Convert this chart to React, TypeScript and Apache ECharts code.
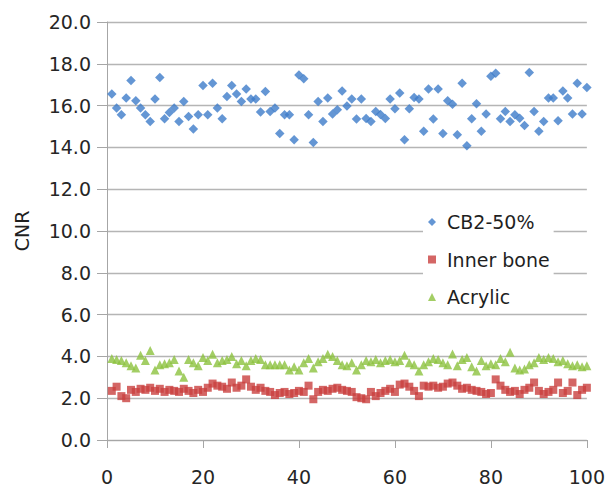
import React, { useEffect, useRef } from "react";
import * as echarts from "echarts";

const cb250: number[] = [
  16.56, 15.88, 15.56, 16.36, 17.2, 16.23, 15.88, 15.56, 15.24, 16.31,
  17.34, 15.37, 15.67, 15.88, 15.24, 16.2, 15.48, 14.88, 15.56, 16.96,
  15.56, 17.07, 15.88, 15.37, 16.44, 16.96, 16.56, 16.2, 16.8, 16.31,
  16.31, 15.69, 16.67, 15.72, 15.88, 14.66, 15.56, 15.56, 14.37, 17.47,
  17.28, 15.56, 14.24, 16.2, 15.24, 16.36, 15.6, 15.8, 16.7, 15.98,
  16.31, 15.36, 16.31, 15.38, 15.24, 15.72, 15.58, 15.38, 16.32, 15.85,
  16.6, 14.37, 15.85, 16.39, 16.32, 14.77, 16.79, 15.36, 16.79, 14.66,
  16.23, 16.07, 14.61, 17.07, 14.08, 15.37, 16.09, 14.77, 15.6, 17.4,
  17.55, 15.37, 15.72, 15.24, 15.56, 15.4, 15.05, 17.58, 15.72, 14.77,
  15.24, 16.36, 16.36, 15.28, 16.7, 16.36, 15.6, 17.07, 15.6, 16.87,
];

const innerBone: number[] = [
  2.35, 2.55, 2.1, 2.0, 2.4, 2.3, 2.45, 2.4, 2.5, 2.35,
  2.45, 2.3, 2.4, 2.35, 2.3, 2.45, 2.35, 2.25, 2.4, 2.3,
  2.5, 2.7, 2.6, 2.55, 2.45, 2.75, 2.5, 2.6, 2.9, 2.55,
  2.4, 2.5, 2.35, 2.3, 2.15, 2.25, 2.3, 2.2, 2.25, 2.35,
  2.3, 2.6, 1.95, 2.3, 2.4, 2.35, 2.45, 2.5, 2.4, 2.35,
  2.3, 2.05, 2.0, 1.95, 2.3, 2.1, 2.25, 2.35, 2.45, 2.3,
  2.65, 2.7, 2.55, 2.35, 2.1, 2.6, 2.55, 2.6, 2.5, 2.55,
  2.7, 2.75, 2.6, 2.45, 2.5, 2.4, 2.35, 2.3, 2.2, 2.25,
  2.9, 2.6, 2.4, 2.3, 2.35, 2.2, 2.4, 2.5, 2.75, 2.35,
  2.2, 2.3, 2.4, 2.75, 2.25, 2.35, 2.75, 2.15, 2.4, 2.5,
];

const acrylic: number[] = [
  3.9, 3.85, 3.8, 3.7, 3.55, 3.45, 4.05, 3.8, 4.28, 3.35,
  3.6, 3.65, 3.7, 3.85, 3.3, 3.0, 3.85, 3.7, 3.55, 3.95,
  3.8, 4.1, 3.7, 3.8, 3.85, 4.0, 3.65, 3.8, 3.55, 3.8,
  3.9, 3.85, 3.6, 3.6, 3.6, 3.6, 3.6, 3.35, 3.5, 3.35,
  3.7, 3.9, 3.45, 3.75, 3.9, 4.1, 4.0, 3.8, 3.6, 3.55,
  3.7, 3.35, 3.6, 3.8, 3.75, 3.85, 3.7, 3.8, 3.85, 3.75,
  3.8, 4.05, 3.7, 3.6, 3.3, 3.6, 3.75, 3.9, 3.85, 3.7,
  3.6, 4.12, 3.55, 3.85, 3.95, 3.5, 3.3, 3.8, 3.55, 3.65,
  3.6, 3.9, 3.75, 4.2, 3.45, 3.35, 3.4, 3.6, 3.7, 3.95,
  3.85, 3.95, 3.9, 3.75, 3.8, 3.65, 3.55, 3.6, 3.5, 3.55,
];

const seriesNames = ["CB2-50%", "Inner bone", "Acrylic"];
const xTicks = [0, 20, 40, 60, 80, 100];
const yTicks = [0, 2, 4, 6, 8, 10, 12, 14, 16, 18, 20];

const toPairs = (vals: number[]) => vals.map((v, i) => [i + 1, v]);

const FONT = "DejaVu Sans";

export default function App() {
  const ref = useRef<HTMLDivElement>(null);
  useEffect(() => {
    if (!ref.current) return;
    const chart = echarts.init(ref.current, undefined, { renderer: "svg" });
    chart.setOption({
      animation: false,
      backgroundColor: "#ffffff",
      textStyle: { fontFamily: FONT },
      grid: { left: 107, right: 20.3, top: 22, bottom: 44.5, containLabel: false },
      legend: {
        orient: "vertical",
        left: 423,
        top: 204,
        padding: [8, 4, 4, 5],
        backgroundColor: "#ffffff",
        itemWidth: 8,
        itemHeight: 8,
        itemGap: 17.5,
        selectedMode: false,
        data: seriesNames,
        textStyle: {
          fontFamily: FONT,
          fontSize: 19,
          color: "#1f1f1f",
          lineHeight: 20,
          padding: [0, 0, 0, 6],
        },
      },
      xAxis: {
        type: "value",
        min: xTicks[0],
        max: xTicks[xTicks.length - 1],
        interval: 20,
        axisLine: { show: true, lineStyle: { color: "#a6a6a6", width: 1 } },
        axisTick: { show: true, inside: false, length: 8, lineStyle: { color: "#a6a6a6" } },
        splitLine: { show: false },
        axisLabel: { fontFamily: FONT, fontSize: 19, color: "#262626", margin: 27 },
      },
      yAxis: {
        type: "value",
        min: yTicks[0],
        max: yTicks[yTicks.length - 1],
        interval: 2,
        name: "CNR",
        nameLocation: "middle",
        nameRotate: 90,
        nameGap: 76,
        nameTextStyle: { fontFamily: FONT, fontSize: 19, color: "#1f1f1f" },
        axisLine: { show: true, lineStyle: { color: "#a6a6a6", width: 1 } },
        axisTick: { show: true, inside: false, length: 10, lineStyle: { color: "#a6a6a6" } },
        splitLine: { show: true, lineStyle: { color: "#b5b5b5", width: 1.3 } },
        axisLabel: {
          fontFamily: FONT,
          fontSize: 19,
          color: "#262626",
          margin: 16,
          formatter: (v: number) => v.toFixed(1),
        },
      },
      series: [
        {
          name: seriesNames[0],
          type: "scatter",
          symbol: "diamond",
          symbolSize: 9.5,
          itemStyle: { color: "#3d7cc9" },
          data: toPairs(cb250),
        },
        {
          name: seriesNames[1],
          type: "scatter",
          symbol: "rect",
          symbolSize: 8,
          itemStyle: { color: "#c9403f" },
          data: toPairs(innerBone),
        },
        {
          name: seriesNames[2],
          type: "scatter",
          symbol: "triangle",
          symbolSize: 9,
          itemStyle: { color: "#8cc23f" },
          data: toPairs(acrylic),
        },
      ],
    });
    return () => chart.dispose();
  }, []);
  return (
    <div
      ref={ref}
      style={{ position: "fixed", left: 0, top: 0, width: 608, height: 486 }}
    />
  );
}
